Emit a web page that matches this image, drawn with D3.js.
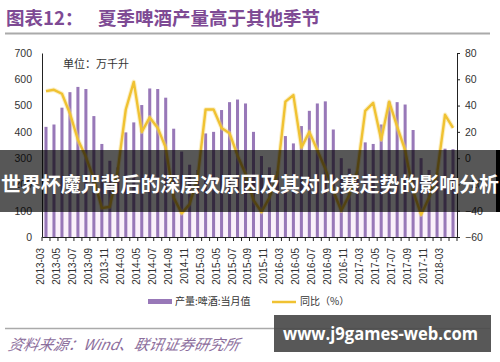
<!DOCTYPE html>
<html><head><meta charset="utf-8">
<script src="https://cdn.jsdelivr.net/npm/d3@7/dist/d3.min.js"></script>
<style>
html,body{margin:0;padding:0;background:#fff;}
svg{display:block;font-family:"Liberation Sans","Noto Sans CJK SC",sans-serif;}
</style></head>
<body>
<svg id="chart" width="500" height="362"></svg>
<script>
const months = [
 "2013-03","2013-04","2013-05","2013-06","2013-07","2013-08","2013-09","2013-10","2013-11","2013-12",
 "2014-03","2014-04","2014-05","2014-06","2014-07","2014-08","2014-09","2014-10","2014-11","2014-12",
 "2015-03","2015-04","2015-05","2015-06","2015-07","2015-08","2015-09","2015-10","2015-11","2015-12",
 "2016-03","2016-04","2016-05","2016-06","2016-07","2016-08","2016-09","2016-10","2016-11","2016-12",
 "2017-03","2017-04","2017-05","2017-06","2017-07","2017-08","2017-09","2017-10","2017-11","2017-12",
 "2018-03","2018-04"];
const output = [
 419,428,492,551,571,563,460,354,290,265,
 398,436,502,565,563,530,412,325,275,255,
 394,400,483,513,523,508,400,308,265,250,
 384,356,422,480,508,516,409,300,260,250,
 360,354,428,515,513,504,407,300,255,245,
 336,334];
const yoy = [
 51,52,49,34,14,1,-16,-38,-37,-9,
 37,58,20,31,23,8,-30,-42,-35,-15,
 37,37,23,19,2,-12,-32,-41,-30,-12,
 43,48,8,20,6,-8,-25,-40,-28,-10,
 36,42,14,43,24,6,-25,-43,-30,-12,
 33,23];
const leftTicks = [0,100,200,300,400,500,600,700];
const rightTicks = [-60,-40,-20,0,20,40,60,80];
const tickLabels = months.filter((m,i)=>i%2===0);

const svg = d3.select("#chart");
const L=42, R=457, T=53, B=237;
const x = d3.scaleBand().domain(months).range([L,R]).paddingInner(0.62).paddingOuter(0.31);
const yL = d3.scaleLinear().domain([0,700]).range([B,T]);
const yR = d3.scaleLinear().domain([-60,80]).range([B,T]);
const purple="#9878b8", gold="#f0c232";

// title
svg.append("text").attr("x",6).attr("y",25).attr("fill","#7e4a94")
 .attr("font-family","Noto Sans CJK SC").attr("font-weight","bold").attr("font-size",18.5)
 .text("图表12：");
svg.append("text").attr("x",98).attr("y",25).attr("fill","#7e4a94")
 .attr("font-family","Noto Sans CJK SC").attr("font-weight","bold").attr("font-size",18.5)
 .text("夏季啤酒产量高于其他季节");
svg.append("line").attr("x1",5).attr("x2",490).attr("y1",33.5).attr("y2",33.5)
 .attr("stroke","#aaa").attr("stroke-width",2);

svg.append("text").attr("x",63).attr("y",68).attr("font-family","Noto Sans CJK SC")
 .attr("font-size",11).attr("fill","#333").text("单位：万千升");

// bars
svg.append("g").selectAll("rect").data(months).join("rect")
 .attr("x",d=>x(d)).attr("width",x.bandwidth())
 .attr("y",(d,i)=>yL(output[i])).attr("height",(d,i)=>B-yL(output[i]))
 .attr("fill",purple);

// line
const line = d3.line().x((d,i)=>x(months[i])+x.bandwidth()/2).y(d=>yR(d));
svg.append("path").datum(yoy).attr("d",line).attr("fill","none")
 .attr("stroke","#f6dc80").attr("stroke-width",4.5).attr("stroke-opacity",0.45).attr("stroke-linejoin","round");
svg.append("path").datum(yoy).attr("d",line).attr("fill","none")
 .attr("stroke",gold).attr("stroke-width",2.4).attr("stroke-linejoin","round");

// left axis
const gl = svg.append("g").attr("transform",`translate(${L},0)`)
 .call(d3.axisLeft(yL).tickValues(leftTicks).tickSize(0).tickPadding(10));
gl.select(".domain").attr("stroke","#222");
gl.selectAll("text").attr("font-size",10.5).attr("fill","#333").attr("font-family","Liberation Sans");

// right axis
const gr = svg.append("g").attr("transform",`translate(${R},0)`)
 .call(d3.axisRight(yR).tickValues(rightTicks).tickSize(3).tickSizeOuter(3).tickPadding(5));
gr.select(".domain").attr("stroke","#222");
gr.selectAll("line").attr("stroke","#222");
gr.selectAll("text").attr("font-size",10.5).attr("fill","#333").attr("font-family","Liberation Sans");

// bottom axis
const gb = svg.append("g").attr("transform",`translate(0,${B})`)
 .call(d3.axisBottom(x).tickValues(tickLabels).tickSize(0).tickPadding(6));
gb.select(".domain").attr("stroke","#222");
gb.selectAll("text").attr("font-size",10).attr("fill","#333").attr("font-family","Liberation Sans")
 .attr("transform","rotate(-90)").attr("text-anchor","end").attr("dx","-0.5em").attr("dy","-0.55em").attr("y",0).attr("x",-6);
gb.selectAll("g.tick").attr("transform",d=>`translate(${x(d)+x.bandwidth()/2+3.5},0)`);
svg.append("g").selectAll("line").data(months.concat(["_end"])).join("line")
 .attr("x1",(d,i)=>L+i*x.step()).attr("x2",(d,i)=>L+i*x.step())
 .attr("y1",B).attr("y2",B+4).attr("stroke","#222");

// legend
svg.append("rect").attr("x",148).attr("y",299).attr("width",24).attr("height",5).attr("fill",purple);
svg.append("text").attr("x",175).attr("y",305).attr("font-size",10).attr("fill","#333")
 .attr("font-family","Noto Sans CJK SC").text("产量:啤酒:当月值");
svg.append("line").attr("x1",272).attr("x2",296).attr("y1",302).attr("y2",302).attr("stroke",gold).attr("stroke-width",2.5);
svg.append("text").attr("x",300).attr("y",305).attr("font-size",10).attr("fill","#333")
 .attr("font-family","Noto Sans CJK SC").text("同比（%）");

// bottom rule and source
svg.append("line").attr("x1",5).attr("x2",490).attr("y1",328.5).attr("y2",328.5)
 .attr("stroke","#aaa").attr("stroke-width",1.5);
svg.append("text").attr("x",8).attr("y",350).attr("font-size",15).attr("fill","#8c6e9c")
 .attr("font-style","italic").attr("font-family","Noto Sans CJK SC").attr("transform","skewX(-12) translate(74,0)")
 .text("资料来源：Wind、联讯证券研究所");

// overlay banner
svg.append("rect").attr("x",L).attr("y",212).attr("width",R-L).attr("height",B-212).attr("fill","#f0d8f0").attr("opacity",0.35).lower();
svg.append("rect").attr("x",0).attr("y",150).attr("width",500).attr("height",62).attr("fill","#000").attr("opacity",0.66);
svg.append("rect").attr("x",496).attr("y",150).attr("width",4).attr("height",62).attr("fill","#000");
svg.append("text").attr("x",250).attr("y",192).attr("text-anchor","middle").attr("fill","#fff")
 .attr("font-family","Noto Sans CJK SC").attr("font-weight","bold").attr("font-size",20)
 .attr("textLength",498).attr("lengthAdjust","spacingAndGlyphs")
 .text("世界杯魔咒背后的深层次原因及其对比赛走势的影响分析");

// watermark box
svg.append("rect").attr("x",274).attr("y",315).attr("width",217).attr("height",37).attr("fill","#4a4a4a").attr("opacity",0.92);
svg.append("text").attr("x",283).attr("y",340).attr("fill","#fff")
 .attr("font-family","Open Sans").attr("font-weight","bold").attr("font-size",17)
 .attr("textLength",195).attr("lengthAdjust","spacingAndGlyphs")
 .text("www.j9games-web.com");
</script>
</body></html>
